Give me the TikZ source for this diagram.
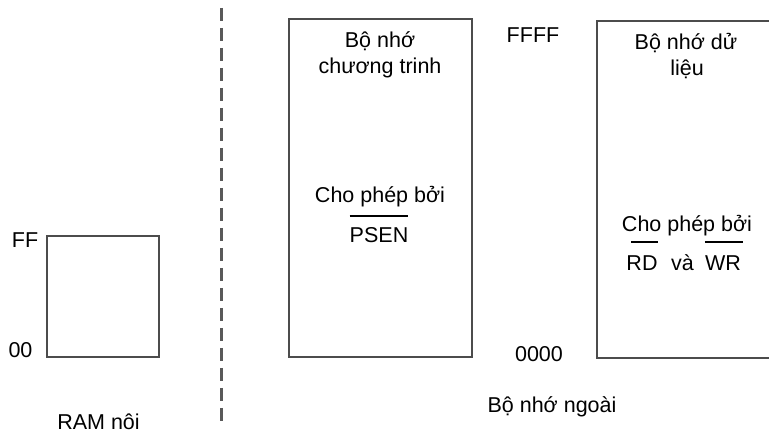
\documentclass[tikz,border=0pt]{standalone}
\usepackage{fontspec}
\setmainfont{Liberation Sans}
\begin{document}
\begin{tikzpicture}[x=1pt,y=-1pt,
  lbl/.style={font=\fontsize{21.5}{25}\selectfont, inner sep=0pt, anchor=base, text=black},
  membox/.style={draw=black!70, line width=1.6pt, inner sep=0pt, anchor=north west},
  dashline/.style={draw=black!65, line width=2.2pt, dash pattern=on 13pt off 7pt},
  ovl/.style={draw=black, line width=1.4pt}]
\clip (0,0) rectangle (769,435);
% boxes
\node[membox, minimum width=112pt, minimum height=121pt] (ram) at (46,235) {};
\node[membox, minimum width=183pt, minimum height=338pt] (prog) at (288,18) {};
\node[membox, minimum width=181pt, minimum height=337pt] (data) at (596,20) {};
% dashed separator
\coordinate (dtop) at (221.5,8);
\coordinate (dbot) at (221.5,428);
\draw[dashline] (dtop) -- (dbot);
% program memory texts
\node[lbl] (p1) at (380,48) {Bộ nhớ};
\node[lbl] (p2) at (380,74) {chương trinh};
\node[lbl] (p3) at (380,203) {Cho phép bởi};
\node[lbl] (psen) at (379,243) {PSEN};
\draw[ovl] ([yshift=27pt]psen.base west) -- ([yshift=27pt]psen.base east);
% data memory texts
\node[lbl] (d1) at (686,50) {Bộ nhớ dử};
\node[lbl] (d2) at (687,76) {liệu};
\node[lbl] (d3) at (687,232) {Cho phép bởi};
\node[lbl] (rd) at (642,271) {RD};
\node[lbl] (va) at (682.5,271) {và};
\node[lbl] (wr) at (723,271) {WR};
\draw[ovl] ([xshift=5pt,yshift=29pt]rd.base west) -- ([yshift=29pt]rd.base east);
\draw[ovl] ([yshift=29pt]wr.base west) -- ([xshift=2pt,yshift=29pt]wr.base east);
% address labels
\node[lbl] (ff) at (25,248) {FF};
\node[lbl] (z2) at (20.5,358) {00};
\node[lbl] (ffff) at (533,43) {FFFF};
\node[lbl] (z4) at (539,362) {0000};
% captions
\node[lbl] (ramcap) at (98.5,430) {RAM nôi};
\node[lbl] (extcap) at (552,413) {Bộ nhớ ngoài};
\end{tikzpicture}
\end{document}
